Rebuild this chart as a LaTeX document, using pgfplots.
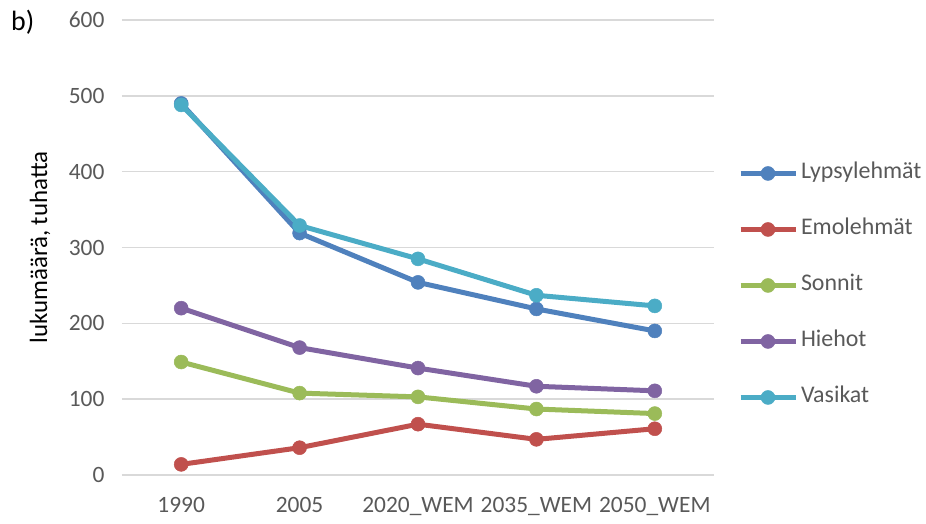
\documentclass[border=0pt]{standalone}
\usepackage{fontspec}
\setmainfont{Carlito}
\usepackage{pgfplots}
\pgfplotsset{compat=1.18}

\definecolor{cLyps}{HTML}{4F81BD}
\definecolor{cEmo}{HTML}{C0504D}
\definecolor{cSon}{HTML}{9BBB59}
\definecolor{cHie}{HTML}{8064A2}
\definecolor{cVas}{HTML}{4BACC6}
\definecolor{gridgray}{HTML}{D9D9D9}
\definecolor{tickgray}{HTML}{595959}

\begin{document}
\begin{tikzpicture}
\begin{axis}[
  at={(0,0)}, anchor=south west,
  scale only axis, width=592bp, height=455bp,
  xmin=-0.5, xmax=4.5, ymin=0, ymax=600,
  xtick={0,1,2,3,4},
  xticklabels={1990,2005,2020\_WEM,2035\_WEM,2050\_WEM},
  ytick={0,100,...,600},
  ymajorgrids,
  grid style={color=gridgray, line width=1.5bp},
  axis line style={draw=none},
  major tick length=0pt,
  /pgf/number format/assume math mode=true,
  tick label style={font=\fontsize{23.5}{27}\selectfont, text=tickgray},
  yticklabel style={xshift=-14bp},
  xticklabel style={yshift=-19bp},
  ylabel={lukumäärä, tuhatta},
  ylabel style={at={(axis description cs:0,0.5)}, anchor=center,
    yshift=82bp, font=\fontsize{25}{29}\selectfont, text=black},
  every axis plot/.append style={line width=5bp, mark=*, mark size=7bp,
    mark options={solid, line width=0.5bp}},
  legend cell align=left,
  legend style={
    at={(axis description cs:1,0.4165)}, anchor=west, xshift=24bp,
    draw=none, fill=none, inner sep=0pt, outer sep=0pt,
    font=\fontsize{24}{28}\selectfont, text=tickgray,
    row sep=35bp,
    nodes={inner sep=0pt, text height=16bp, text depth=5bp},
    /tikz/every odd column/.append style={column sep=3bp},
  },
  legend image code/.code={%
    \draw[mark repeat=2, mark phase=2, #1]
      plot coordinates {(0bp,0bp) (27.5bp,0bp) (55bp,0bp)};},
]
% Lypsylehmät
\addplot[color=cLyps] coordinates {(0,490) (1,319) (2,254) (3,219) (4,190)};
\addlegendentry{Lypsylehmät}
% Emolehmät
\addplot[color=cEmo] coordinates {(0,14) (1,36) (2,67) (3,47) (4,61)};
\addlegendentry{Emolehmät}
% Sonnit
\addplot[color=cSon] coordinates {(0,149) (1,108) (2,103) (3,87) (4,81)};
\addlegendentry{Sonnit}
% Hiehot
\addplot[color=cHie] coordinates {(0,220) (1,168) (2,141) (3,117) (4,111)};
\addlegendentry{Hiehot}
% Vasikat
\addplot[color=cVas] coordinates {(0,488) (1,329) (2,285) (3,237) (4,223)};
\addlegendentry{Vasikat}
\end{axis}
\node[anchor=base west, inner sep=0pt, font=\fontsize{28}{32}\selectfont] at (-111bp,444bp) {b)};
\pgfresetboundingbox
\path (-122bp,-49bp) rectangle (804bp,475bp);
\end{tikzpicture}
\end{document}
